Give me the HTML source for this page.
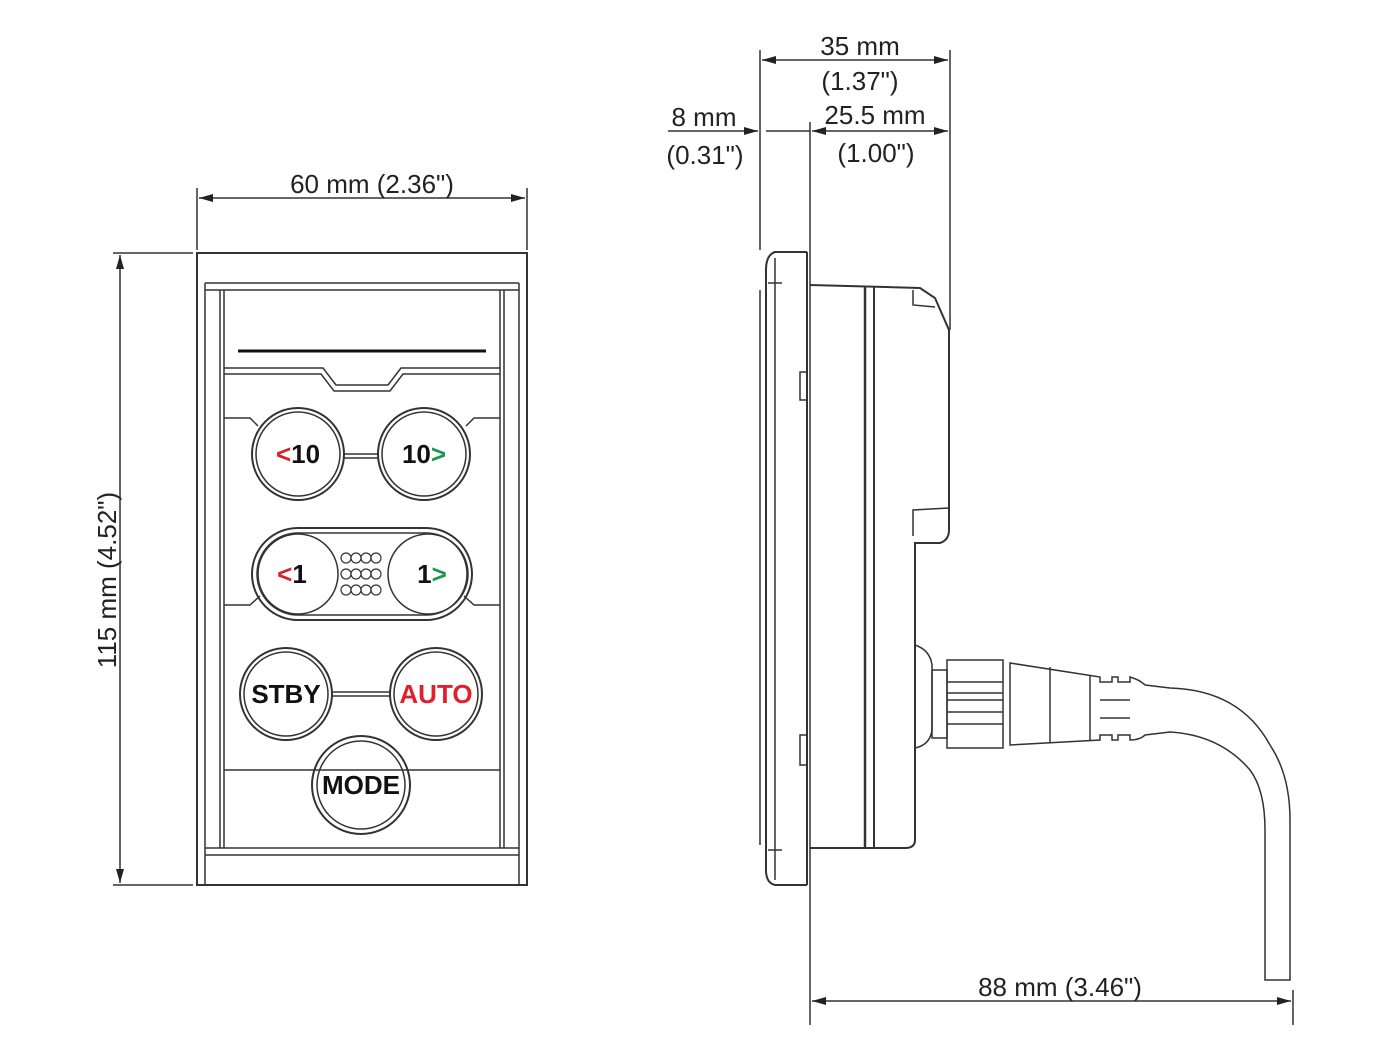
<!DOCTYPE html>
<html><head><meta charset="utf-8"><style>
html,body{margin:0;padding:0;background:#fff;}
svg{display:block;}
text{font-family:"Liberation Sans",sans-serif;}
</style></head><body>
<svg width="1384" height="1049" viewBox="0 0 1384 1049" xmlns="http://www.w3.org/2000/svg">
<defs>
<marker id="ar" markerWidth="14" markerHeight="8" refX="14" refY="4" orient="auto" markerUnits="userSpaceOnUse"><path d="M0,0 L14,4 L0,8 z" fill="#222"/></marker>
<marker id="al" markerWidth="14" markerHeight="8" refX="0" refY="4" orient="auto" markerUnits="userSpaceOnUse"><path d="M14,0 L0,4 L14,8 z" fill="#222"/></marker>
</defs>
<g stroke="#333" fill="none" stroke-width="1.5">
<!-- front dims -->
<line x1="197" y1="188" x2="197" y2="250"/><line x1="527" y1="188" x2="527" y2="250"/>
<line x1="199" y1="198" x2="525" y2="198" marker-start="url(#al)" marker-end="url(#ar)"/>
<line x1="113" y1="253" x2="193" y2="253"/><line x1="113" y1="885" x2="193" y2="885"/>
<line x1="120" y1="255" x2="120" y2="883" marker-start="url(#al)" marker-end="url(#ar)"/>
<!-- front body -->
<rect x="197" y="253" width="330" height="632" stroke-width="2"/>
<line x1="205" y1="283" x2="519" y2="283"/>
<line x1="205" y1="290" x2="519" y2="290"/>
<line x1="205" y1="283" x2="205" y2="885"/><line x1="519" y1="283" x2="519" y2="885"/>
<line x1="220" y1="290" x2="220" y2="848"/><line x1="224" y1="290" x2="224" y2="848"/>
<line x1="500" y1="290" x2="500" y2="848"/><line x1="504" y1="290" x2="504" y2="848"/>
<line x1="238" y1="351" x2="486" y2="351" stroke-width="3" stroke="#111"/>
<path d="M224 368 H323 L336 385 H388 L401 368 H500"/>
<path d="M224 374 H321 L334 391 H390 L403 374 H500"/>
<path d="M224 418 H250 L258 426"/><path d="M500 418 H474 L466 426"/>
<path d="M224 605 H250 L260 596"/><path d="M500 605 H474 L464 596"/>
<line x1="224" y1="770" x2="500" y2="770"/>
<line x1="205" y1="848" x2="519" y2="848"/><line x1="205" y1="855" x2="519" y2="855"/>
<!-- buttons -->
<line x1="343" y1="454" x2="379" y2="454"/><line x1="343" y1="458" x2="379" y2="458"/>
<circle cx="298" cy="454" r="46" stroke-width="2"/><circle cx="298" cy="454" r="42"/>
<circle cx="424" cy="454" r="46" stroke-width="2"/><circle cx="424" cy="454" r="42"/>
<rect x="252" y="528" width="220" height="92" rx="46" stroke-width="2"/>
<rect x="257" y="533" width="210" height="82" rx="41"/>
<circle cx="298" cy="574" r="40"/><circle cx="428" cy="574" r="40"/>
<g stroke-width="1.2">
<circle cx="346" cy="558" r="5"/><circle cx="356" cy="558" r="5"/><circle cx="366" cy="558" r="5"/><circle cx="376" cy="558" r="5"/>
<circle cx="346" cy="574" r="5"/><circle cx="356" cy="574" r="5"/><circle cx="366" cy="574" r="5"/><circle cx="376" cy="574" r="5"/>
<circle cx="346" cy="590" r="5"/><circle cx="356" cy="590" r="5"/><circle cx="366" cy="590" r="5"/><circle cx="376" cy="590" r="5"/>
</g>
<line x1="331" y1="692" x2="391" y2="692"/><line x1="331" y1="696" x2="391" y2="696"/>
<circle cx="286" cy="694" r="46" stroke-width="2"/><circle cx="286" cy="694" r="42"/>
<circle cx="436" cy="694" r="46" stroke-width="2"/><circle cx="436" cy="694" r="42"/>
<circle cx="361" cy="785" r="49" stroke-width="2"/><circle cx="361" cy="785" r="44"/>
<!-- side dims -->
<line x1="760" y1="50" x2="760" y2="250"/><line x1="810" y1="122" x2="810" y2="1025"/><line x1="950" y1="50" x2="950" y2="330"/>
<line x1="762" y1="60" x2="948" y2="60" marker-start="url(#al)" marker-end="url(#ar)"/>
<line x1="668" y1="131" x2="758" y2="131" marker-end="url(#ar)"/>
<line x1="766" y1="131" x2="810" y2="131"/>
<line x1="812" y1="131" x2="948" y2="131" marker-start="url(#al)" marker-end="url(#ar)"/>
<line x1="1293" y1="990" x2="1293" y2="1025"/>
<line x1="812" y1="1001" x2="1291" y2="1001" marker-start="url(#al)" marker-end="url(#ar)"/>
<!-- side plate -->
<path d="M807 252 H775 Q766 255 766 270 V870 Q766 883 775 885 H807" stroke-width="2"/>
<line x1="775" y1="258" x2="775" y2="880"/>
<line x1="768" y1="283" x2="782" y2="283"/><line x1="768" y1="850" x2="782" y2="850"/>
<line x1="760" y1="290" x2="760" y2="845"/>
<line x1="807" y1="252" x2="807" y2="885" stroke-width="2"/>
<rect x="800" y="372" width="7" height="28"/><rect x="800" y="735" width="7" height="30"/>
<!-- body -->
<path d="M810 285 L920 288 L935 298 L949 330 V530 Q949 540 940 543 H915 V840 Q915 848 905 848 H810" stroke-width="2"/>
<path d="M913 290 V305 L935 307"/>
<path d="M949 508 L913 510 V536"/>
<line x1="865" y1="287" x2="865" y2="848" stroke-width="2.5"/><line x1="874" y1="287" x2="874" y2="848" stroke-width="2"/>
<!-- connector -->
<path d="M915 645 Q930 650 932 665 V730 Q930 745 915 748"/>
<rect x="932" y="670" width="15" height="68"/>
<rect x="947" y="660" width="56" height="88"/>
<line x1="947" y1="682" x2="1003" y2="682"/><line x1="947" y1="693" x2="1003" y2="693"/><line x1="947" y1="700" x2="1003" y2="700"/><line x1="947" y1="712" x2="1003" y2="712"/><line x1="947" y1="724" x2="1003" y2="724"/>
<path d="M1010 663 L1100 677 V682 H1112 V677 H1118 V682 H1130 V677 Q1140 680 1145 685 L1170 688 Q1240 690 1270 745 Q1290 775 1290 820 V980 H1265 V830 Q1265 790 1250 770 Q1220 735 1170 732 L1145 735 Q1140 740 1130 740 V735 H1118 V740 H1112 V735 H1100 V740 L1010 745 Z"/>
<line x1="1050" y1="667" x2="1050" y2="743"/><line x1="1090" y1="675" x2="1090" y2="740"/>
<line x1="1100" y1="700" x2="1130" y2="700"/><line x1="1100" y1="718" x2="1130" y2="718"/>
</g>
<g font-size="26" fill="#222" text-anchor="middle">
<text x="372" y="193">60 mm (2.36")</text>
<text transform="translate(116,580) rotate(-90)">115 mm (4.52")</text>
<text x="860" y="55">35 mm</text>
<text x="860" y="90">(1.37")</text>
<text x="704" y="126">8 mm</text>
<text x="705" y="164">(0.31")</text>
<text x="875" y="124">25.5 mm</text>
<text x="876" y="162">(1.00")</text>
<text x="1060" y="996">88 mm (3.46")</text>
</g>
<g font-size="26" font-weight="bold" fill="#111" text-anchor="middle">
<text x="298" y="463"><tspan fill="#d8212a">&lt;</tspan>10</text>
<text x="424" y="463">10<tspan fill="#1a9a4a">&gt;</tspan></text>
<text x="292" y="583"><tspan fill="#d8212a">&lt;</tspan>1</text>
<text x="432" y="583">1<tspan fill="#1a9a4a">&gt;</tspan></text>
<text x="286" y="703">STBY</text>
<text x="436" y="703" fill="#e0202a">AUTO</text>
<text x="361" y="794">MODE</text>
</g>
</svg>
</body></html>
